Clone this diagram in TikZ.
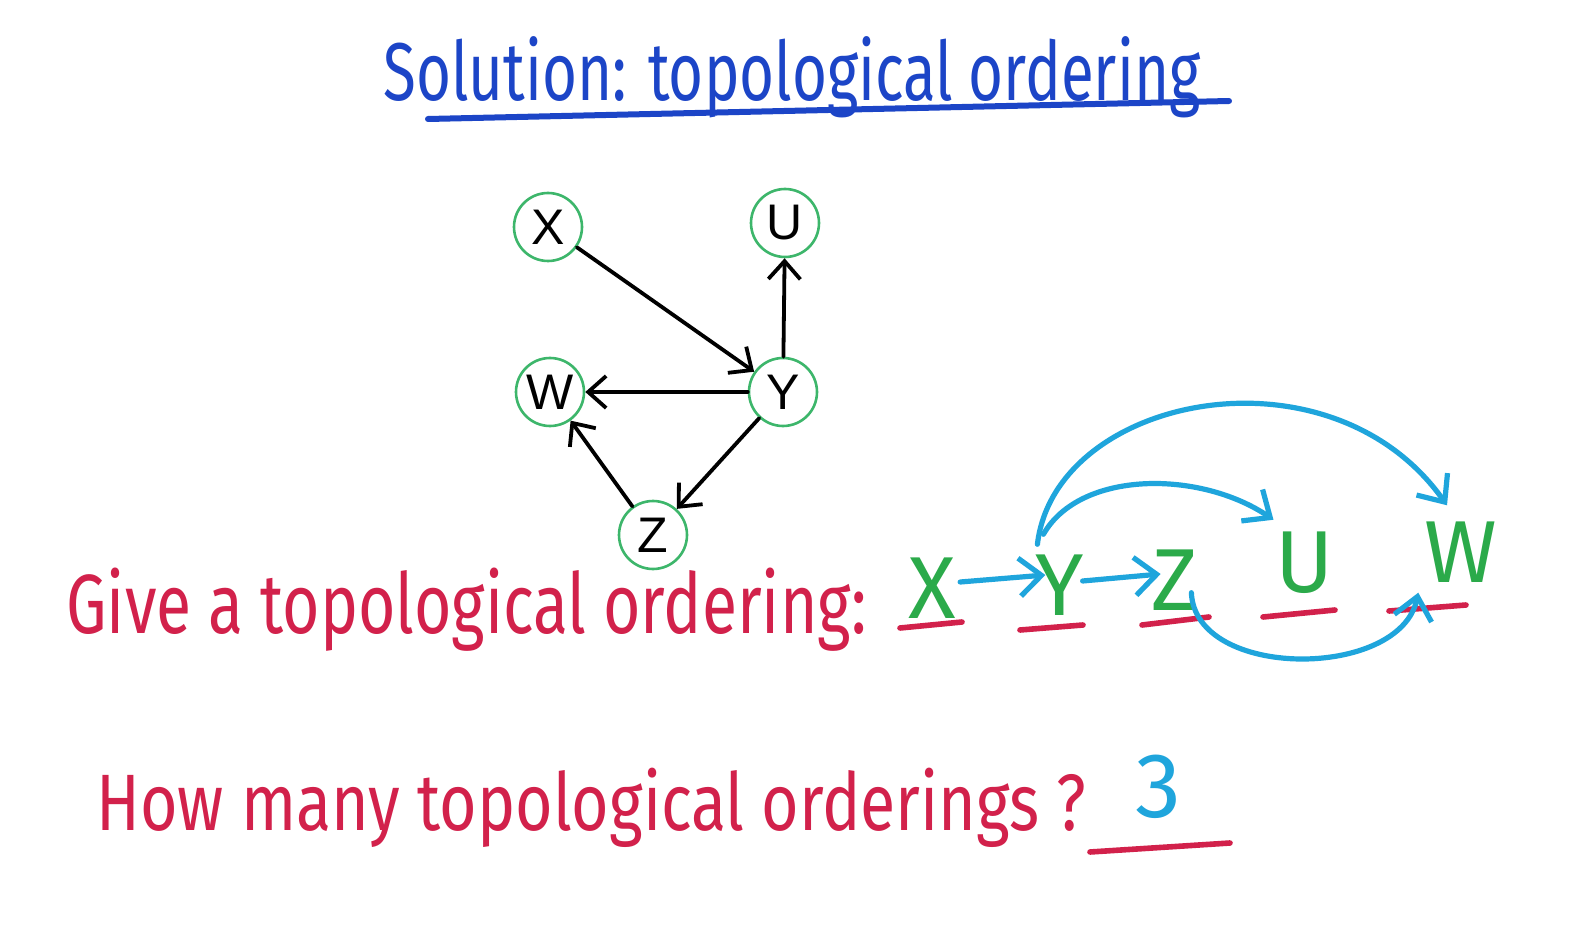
\documentclass[tikz,border=0pt]{standalone}
\usepackage{fontspec}
\usepackage{graphicx}
\usetikzlibrary{arrows.meta}
\newfontfamily\hand{Fira Sans}
\newfontfamily\arialf{Liberation Sans}
\definecolor{titleblue}{HTML}{1C45C7}
\definecolor{pred}{HTML}{D2214B}
\definecolor{cyanb}{HTML}{1FA5DC}
\definecolor{lgreen}{HTML}{2BAA4A}
\definecolor{ngreen}{HTML}{3DB66B}
\newlength\pxu \setlength\pxu{0.5pt}
\begin{document}
\begin{tikzpicture}[x=0.5pt,y=-0.5pt,
  gnode/.style={circle,draw=ngreen,line width=1.3pt,minimum size=34pt,inner sep=0pt,
    font=\arialf\fontsize{25}{25}\selectfont},
  garrow/.style={line width=1.9pt,line cap=round,-{Straight Barb[length=9pt,width=16pt]}},
  hw/.style={anchor=base west,inner sep=0pt},
  ord/.style={text=lgreen,inner sep=0pt,font=\hand\fontsize{44}{44}\selectfont},
  uline/.style={pred,line width=2.8pt,line cap=round},
  barrow/.style={cyanb,line width=2.6pt,line cap=round,-{Straight Barb[length=11pt,width=19pt]}}]
\useasboundingbox[fill=white] (0,0) rectangle (1580,936);

% title
\node[hw,text=titleblue] (title) at (383,101)
  {\resizebox{817\pxu}{\height}{\hand\fontsize{41}{44}\selectfont Solution: topological ordering}};
\draw[titleblue,line width=3pt,line cap=round] (428,119) -- (1229,101);

% graph
\node[gnode] (X) at (548,227) {X};
\node[gnode] (U) at (785,223) {U};
\node[gnode] (W) at (550,392) {W};
\node[gnode] (Y) at (783,392) {Y};
\node[gnode] (Z) at (653,535) {Z};
\draw[garrow] (X) -- (Y);
\draw[garrow] (Y) -- (U);
\draw[garrow] (Y) -- (W);
\draw[garrow] (Y) -- (Z);
\draw[garrow] (Z) -- (W);

% question 1
\node[hw,text=pred] (give) at (66,633)
  {\resizebox{800\pxu}{\height}{\hand\fontsize{42}{46}\selectfont Give a topological ordering:}};

\node[ord] (o1) at (932,588) {X};
\node[ord] (o2) at (1060,585) {Y};
\node[ord] (o3) at (1174,580) {Z};
\node[ord] (o4) at (1305,563) {U};
\node[ord] (o5) at (1461,552) {W};

\draw[uline] (900,628) -- (962,622);
\draw[uline] (1020,630) -- (1083,625);
\draw[uline] (1142,625) -- (1209,617);
\draw[uline] (1263,617) -- (1335,610);
\draw[uline] (1389,611) -- (1466,605);

\draw[barrow] ([xshift=2pt,yshift=3pt]o1.east) -- ([xshift=5pt,yshift=5pt]o2.west);
\draw[barrow] ([xshift=-1pt,yshift=2pt]o2.east) -- ([xshift=5pt,yshift=3pt]o3.west);
\draw[barrow] ([xshift=4pt,yshift=10pt]o2.north west) .. controls (1080,470) and (1200,470) .. ([xshift=-1pt,yshift=6pt]o4.north west);
\draw[barrow] ([xshift=1pt,yshift=5pt]o2.north west) .. controls (1055,395) and (1330,340) .. ([xshift=-7pt,yshift=8pt]o5.north);
\draw[barrow] ([xshift=-3pt,yshift=9pt]o3.south east) .. controls (1195,680) and (1400,680) .. ([xshift=-3pt,yshift=-5pt]o5.south west);

% question 2
\node[hw,text=pred] (how) at (96,830)
  {\resizebox{990\pxu}{\height}{\hand\fontsize{40}{44}\selectfont How many topological orderings ?}};
\node[text=cyanb,inner sep=0pt,font=\hand\fontsize{46}{46}\selectfont] (three) at (1158,787) {3};
\draw[uline] (1090,852) -- (1230,843);
\end{tikzpicture}
\end{document}
